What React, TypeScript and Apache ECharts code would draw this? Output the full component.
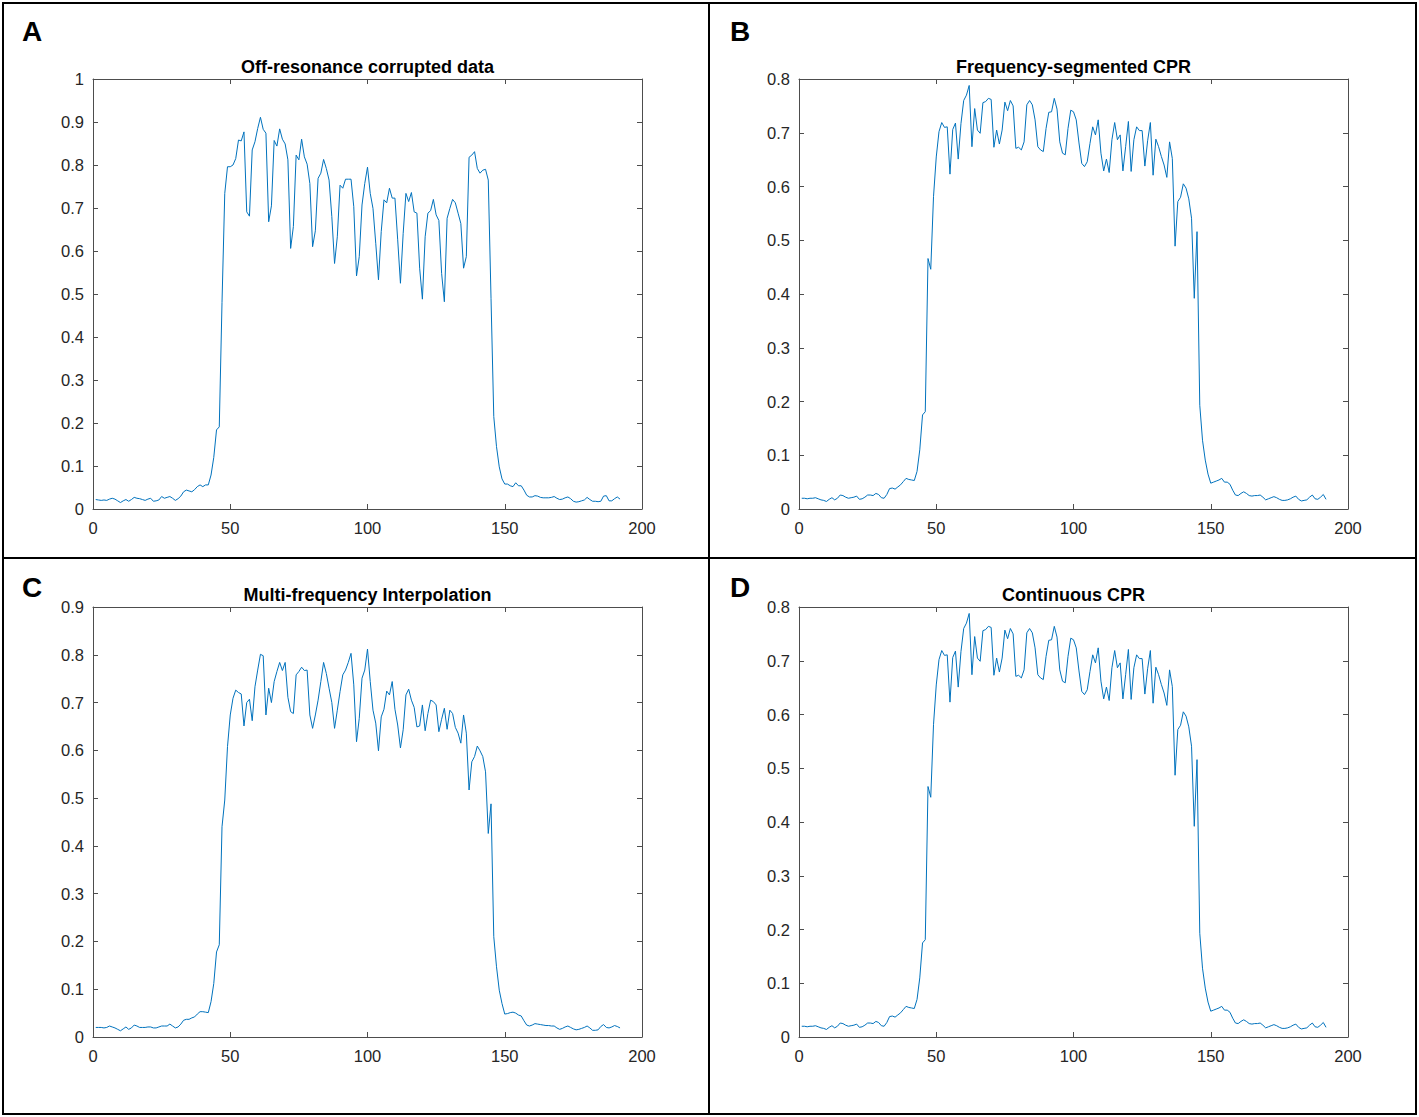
import React, { useEffect, useRef } from "react";
import * as echarts from "echarts";

const panelTitles = [
  "Off-resonance corrupted data",
  "Frequency-segmented CPR",
  "Multi-frequency Interpolation",
  "Continuous CPR",
];
const panelLetters = ["A", "B", "C", "D"];
const xTicks = [0, 50, 100, 150, 200];
const yMaxes = [1, 0.8, 0.9, 0.8];

// Off-resonance corrupted data (samples 1..192)
const corruptedData = [
  0.022, 0.021, 0.020, 0.021, 0.020, 0.023, 0.025, 0.023, 0.019, 0.015,
  0.019, 0.022, 0.018, 0.022, 0.027, 0.025, 0.024, 0.022, 0.020, 0.023,
  0.025, 0.018, 0.019, 0.021, 0.029, 0.025, 0.027, 0.029, 0.025, 0.020,
  0.024, 0.030, 0.040, 0.044, 0.042, 0.040, 0.045, 0.052, 0.056, 0.052,
  0.056, 0.056, 0.079, 0.120, 0.184, 0.191, 0.480, 0.734, 0.796, 0.796,
  0.800, 0.815, 0.858, 0.856, 0.877, 0.691, 0.681, 0.835, 0.854, 0.885,
  0.911, 0.883, 0.874, 0.668, 0.705, 0.857, 0.844, 0.884, 0.860, 0.849,
  0.812, 0.606, 0.657, 0.823, 0.812, 0.860, 0.819, 0.802, 0.757, 0.610,
  0.647, 0.769, 0.781, 0.813, 0.792, 0.765, 0.680, 0.571, 0.633, 0.753,
  0.746, 0.767, 0.767, 0.767, 0.703, 0.542, 0.587, 0.707, 0.757, 0.795,
  0.734, 0.699, 0.618, 0.533, 0.645, 0.719, 0.712, 0.746, 0.723, 0.723,
  0.626, 0.525, 0.641, 0.734, 0.715, 0.736, 0.691, 0.688, 0.560, 0.488,
  0.633, 0.688, 0.694, 0.720, 0.684, 0.671, 0.548, 0.482, 0.676, 0.699,
  0.720, 0.712, 0.688, 0.664, 0.560, 0.587, 0.818, 0.823, 0.831, 0.792,
  0.781, 0.788, 0.790, 0.765, 0.490, 0.215, 0.145, 0.098, 0.070, 0.058,
  0.058, 0.054, 0.052, 0.061, 0.054, 0.054, 0.044, 0.032, 0.028, 0.028,
  0.031, 0.030, 0.027, 0.026, 0.026, 0.026, 0.027, 0.029, 0.025, 0.022,
  0.023, 0.026, 0.028, 0.024, 0.018, 0.016, 0.017, 0.019, 0.021, 0.027,
  0.022, 0.018, 0.018, 0.017, 0.018, 0.030, 0.031, 0.019, 0.019, 0.024,
  0.028, 0.023,
];

// Frequency-segmented CPR
const segmentedCPR = [
  0.020, 0.020, 0.019, 0.020, 0.020, 0.021, 0.019, 0.017, 0.016, 0.014,
  0.018, 0.021, 0.017, 0.020, 0.026, 0.025, 0.022, 0.020, 0.021, 0.022,
  0.024, 0.018, 0.019, 0.022, 0.026, 0.026, 0.025, 0.029, 0.027, 0.021,
  0.020, 0.027, 0.038, 0.039, 0.037, 0.041, 0.045, 0.051, 0.057, 0.055,
  0.054, 0.053, 0.070, 0.110, 0.175, 0.181, 0.466, 0.446, 0.581, 0.655,
  0.702, 0.719, 0.710, 0.711, 0.623, 0.706, 0.718, 0.651, 0.717, 0.760,
  0.770, 0.788, 0.674, 0.745, 0.705, 0.699, 0.756, 0.758, 0.764, 0.762,
  0.673, 0.705, 0.679, 0.705, 0.757, 0.741, 0.760, 0.750, 0.671, 0.673,
  0.668, 0.683, 0.752, 0.760, 0.752, 0.724, 0.674, 0.668, 0.665, 0.708,
  0.738, 0.739, 0.764, 0.744, 0.683, 0.662, 0.659, 0.708, 0.742, 0.739,
  0.724, 0.681, 0.643, 0.637, 0.646, 0.680, 0.711, 0.696, 0.724, 0.662,
  0.629, 0.651, 0.626, 0.687, 0.719, 0.687, 0.696, 0.629, 0.674, 0.721,
  0.628, 0.687, 0.711, 0.704, 0.704, 0.638, 0.685, 0.719, 0.621, 0.688,
  0.674, 0.656, 0.640, 0.617, 0.683, 0.652, 0.489, 0.572, 0.580, 0.605,
  0.597, 0.577, 0.541, 0.392, 0.516, 0.193, 0.128, 0.091, 0.065, 0.048,
  0.050, 0.052, 0.054, 0.057, 0.050, 0.050, 0.046, 0.035, 0.026, 0.025,
  0.029, 0.032, 0.029, 0.025, 0.024, 0.025, 0.025, 0.026, 0.022, 0.017,
  0.019, 0.021, 0.023, 0.021, 0.018, 0.016, 0.016, 0.017, 0.019, 0.022,
  0.024, 0.018, 0.015, 0.016, 0.017, 0.022, 0.026, 0.019, 0.018, 0.022,
  0.027, 0.018,
];

// Multi-frequency Interpolation
const multiFreqInterp = [
  0.020, 0.020, 0.020, 0.019, 0.020, 0.023, 0.021, 0.019, 0.016, 0.013,
  0.017, 0.021, 0.016, 0.019, 0.025, 0.023, 0.020, 0.020, 0.020, 0.021,
  0.021, 0.019, 0.019, 0.021, 0.023, 0.023, 0.023, 0.027, 0.023, 0.019,
  0.021, 0.027, 0.035, 0.037, 0.037, 0.040, 0.042, 0.048, 0.053, 0.053,
  0.052, 0.051, 0.074, 0.112, 0.178, 0.193, 0.440, 0.496, 0.608, 0.674,
  0.709, 0.726, 0.721, 0.718, 0.651, 0.700, 0.707, 0.662, 0.733, 0.768,
  0.801, 0.798, 0.674, 0.730, 0.700, 0.744, 0.765, 0.784, 0.767, 0.784,
  0.711, 0.681, 0.677, 0.758, 0.765, 0.774, 0.767, 0.768, 0.674, 0.646,
  0.674, 0.705, 0.744, 0.784, 0.761, 0.730, 0.700, 0.646, 0.684, 0.723,
  0.758, 0.768, 0.784, 0.803, 0.737, 0.618, 0.667, 0.751, 0.768, 0.812,
  0.744, 0.684, 0.657, 0.599, 0.670, 0.686, 0.724, 0.716, 0.744, 0.686,
  0.653, 0.605, 0.643, 0.716, 0.728, 0.705, 0.690, 0.649, 0.651, 0.695,
  0.641, 0.677, 0.705, 0.702, 0.695, 0.639, 0.665, 0.688, 0.644, 0.684,
  0.677, 0.648, 0.636, 0.615, 0.674, 0.636, 0.517, 0.576, 0.587, 0.609,
  0.599, 0.587, 0.555, 0.426, 0.488, 0.210, 0.147, 0.098, 0.070, 0.048,
  0.049, 0.051, 0.052, 0.050, 0.046, 0.044, 0.034, 0.025, 0.023, 0.025,
  0.028, 0.027, 0.026, 0.025, 0.024, 0.024, 0.023, 0.023, 0.019, 0.016,
  0.018, 0.021, 0.023, 0.020, 0.017, 0.015, 0.016, 0.018, 0.020, 0.023,
  0.019, 0.014, 0.014, 0.015, 0.022, 0.026, 0.020, 0.019, 0.021, 0.024,
  0.022, 0.019,
];

// Continuous CPR
const continuousCPR = [
  0.020, 0.020, 0.019, 0.020, 0.020, 0.021, 0.019, 0.017, 0.016, 0.014,
  0.018, 0.021, 0.017, 0.020, 0.026, 0.025, 0.022, 0.020, 0.021, 0.022,
  0.024, 0.018, 0.019, 0.022, 0.026, 0.026, 0.025, 0.029, 0.027, 0.021,
  0.020, 0.027, 0.038, 0.039, 0.037, 0.041, 0.045, 0.051, 0.057, 0.055,
  0.054, 0.053, 0.070, 0.110, 0.175, 0.181, 0.466, 0.446, 0.581, 0.655,
  0.702, 0.719, 0.710, 0.711, 0.623, 0.706, 0.718, 0.651, 0.717, 0.760,
  0.770, 0.788, 0.674, 0.745, 0.705, 0.699, 0.756, 0.758, 0.764, 0.762,
  0.673, 0.705, 0.679, 0.705, 0.757, 0.741, 0.760, 0.750, 0.671, 0.673,
  0.668, 0.683, 0.752, 0.760, 0.752, 0.724, 0.674, 0.668, 0.665, 0.708,
  0.738, 0.739, 0.764, 0.744, 0.683, 0.662, 0.659, 0.708, 0.742, 0.739,
  0.724, 0.681, 0.643, 0.637, 0.646, 0.680, 0.711, 0.696, 0.724, 0.662,
  0.629, 0.651, 0.626, 0.687, 0.719, 0.687, 0.696, 0.629, 0.674, 0.721,
  0.628, 0.687, 0.711, 0.704, 0.704, 0.638, 0.685, 0.719, 0.621, 0.688,
  0.674, 0.656, 0.640, 0.617, 0.683, 0.652, 0.487, 0.572, 0.580, 0.605,
  0.597, 0.577, 0.541, 0.392, 0.516, 0.193, 0.128, 0.091, 0.065, 0.048,
  0.050, 0.052, 0.054, 0.057, 0.050, 0.050, 0.046, 0.035, 0.026, 0.025,
  0.029, 0.032, 0.029, 0.025, 0.024, 0.025, 0.025, 0.026, 0.022, 0.017,
  0.019, 0.021, 0.023, 0.021, 0.018, 0.016, 0.016, 0.017, 0.019, 0.022,
  0.024, 0.018, 0.015, 0.016, 0.017, 0.022, 0.026, 0.019, 0.018, 0.022,
  0.027, 0.018,
];

const panelData = [corruptedData, segmentedCPR, multiFreqInterp, continuousCPR];

const FONT = "'Liberation Sans', Arial, sans-serif";
const AXIS_COLOR = "#4d4d4d";
const LABEL_COLOR = "#262626";
const LINE_COLOR = "#0072BD";

export default function App() {
  const ref = useRef<HTMLDivElement>(null);

  useEffect(() => {
    if (!ref.current) return;
    const chart = echarts.init(ref.current, undefined, { renderer: "svg" });

    const grids = [
      { left: 93, top: 79, width: 549, height: 430 },
      { left: 799, top: 79, width: 549, height: 430 },
      { left: 93, top: 607, width: 549, height: 430 },
      { left: 799, top: 607, width: 549, height: 430 },
    ];
    const letterPos = [
      [22, 17],
      [730, 17],
      [22, 573],
      [730, 573],
    ];

    const xAxes: any[] = [];
    const yAxes: any[] = [];
    const series: any[] = [];
    const titles: any[] = [];

    grids.forEach((g, i) => {
      const tick = { show: true, inside: true, length: 5, lineStyle: { color: AXIS_COLOR, width: 1 } };
      const axisLine = { show: true, onZero: false, lineStyle: { color: AXIS_COLOR, width: 1 } };
      xAxes.push({
        gridIndex: i,
        type: "value",
        position: "bottom",
        min: xTicks[0],
        max: xTicks[xTicks.length - 1],
        interval: 50,
        axisLine,
        axisTick: tick,
        splitLine: { show: false },
        axisLabel: { color: LABEL_COLOR, fontSize: 16.5, fontFamily: FONT, margin: 10 },
      });
      xAxes.push({
        gridIndex: i,
        type: "value",
        position: "top",
        min: xTicks[0],
        max: xTicks[xTicks.length - 1],
        interval: 50,
        axisLine,
        axisTick: tick,
        splitLine: { show: false },
        axisLabel: { show: false },
      });
      yAxes.push({
        gridIndex: i,
        type: "value",
        position: "left",
        min: 0,
        max: yMaxes[i],
        interval: 0.1,
        axisLine,
        axisTick: tick,
        splitLine: { show: false },
        axisLabel: {
          color: LABEL_COLOR,
          fontSize: 16.5,
          fontFamily: FONT,
          margin: 9,
          formatter: (v: number) => String(Math.round(v * 10) / 10),
        },
      });
      yAxes.push({
        gridIndex: i,
        type: "value",
        position: "right",
        min: 0,
        max: yMaxes[i],
        interval: 0.1,
        axisLine,
        axisTick: tick,
        splitLine: { show: false },
        axisLabel: { show: false },
      });
      series.push({
        type: "line",
        xAxisIndex: i * 2,
        yAxisIndex: i * 2,
        data: panelData[i].map((v, k) => [k + 1, v]),
        showSymbol: false,
        symbol: "none",
        lineStyle: { color: LINE_COLOR, width: 1 },
        silent: true,
      });
      titles.push({
        text: panelTitles[i],
        left: g.left + g.width / 2,
        top: g.top - 21,
        textAlign: "center",
        padding: 0,
        textStyle: { fontSize: 18, fontWeight: "bold", color: "#000", fontFamily: FONT },
      });
    });

    const graphic: any[] = [
      {
        type: "rect",
        shape: { x: 3, y: 3, width: 1413, height: 1111 },
        style: { fill: "none", stroke: "#000", lineWidth: 2 },
        silent: true,
      },
      {
        type: "line",
        shape: { x1: 709, y1: 3, x2: 709, y2: 1114 },
        style: { stroke: "#000", lineWidth: 2 },
        silent: true,
      },
      {
        type: "line",
        shape: { x1: 3, y1: 558, x2: 1416, y2: 558 },
        style: { stroke: "#000", lineWidth: 2 },
        silent: true,
      },
    ];
    panelLetters.forEach((l, i) => {
      graphic.push({
        type: "text",
        x: letterPos[i][0],
        y: letterPos[i][1],
        style: { text: l, font: `bold 28px ${FONT}`, fill: "#000" },
        silent: true,
      });
    });

    chart.setOption({
      animation: false,
      backgroundColor: "#fff",
      title: titles,
      grid: grids.map((g) => ({ ...g, containLabel: false })),
      xAxis: xAxes,
      yAxis: yAxes,
      series,
      graphic,
    });

    return () => chart.dispose();
  }, []);

  return (
    <div
      ref={ref}
      style={{ position: "absolute", left: 0, top: 0, width: 1419, height: 1117, background: "#fff" }}
    />
  );
}
